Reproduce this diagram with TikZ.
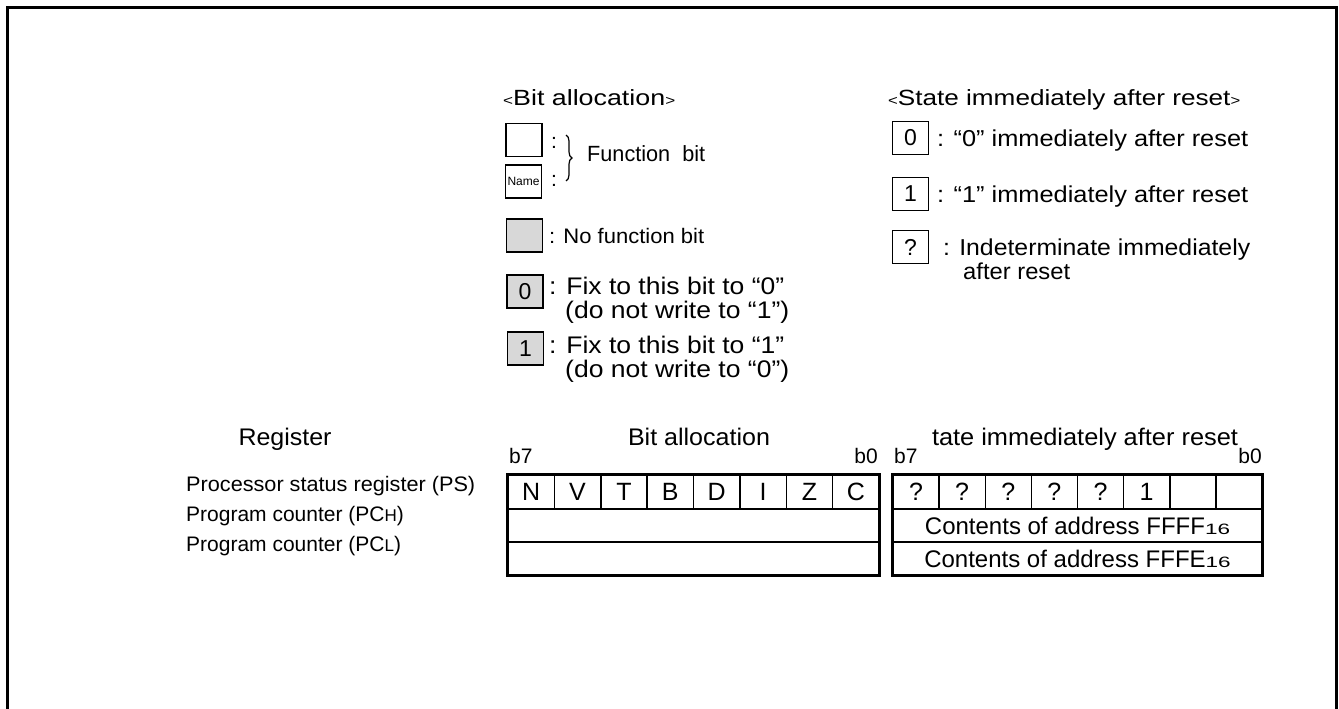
\documentclass[tikz,border=0pt]{standalone}
\usepackage{fontspec}
\setmainfont{Liberation Sans}
\usepackage{graphicx}
\usetikzlibrary{decorations.pathreplacing}
\newcommand\tw[2]{\resizebox{#1pt}{\height}{#2}}
\newcommand\sm[1]{{\fontsize{14}{14}\selectfont #1}}
\newcommand\subsx[1]{\resizebox{25pt}{\height}{\fontsize{15}{15}\selectfont #1}}
\definecolor{boxgray}{RGB}{216,216,216}
\begin{document}
\begin{tikzpicture}[x=1pt,y=-1pt,
  txt/.style={anchor=base west, inner sep=0pt, font=\fontsize{21}{21}\selectfont},
  txtb/.style={anchor=base west, inner sep=0pt, font=\fontsize{24}{24}\selectfont},
  txtr/.style={anchor=base west, inner sep=0pt, font=\fontsize{23}{23}\selectfont},
  head/.style={anchor=base, inner sep=0pt, font=\fontsize{24}{24}\selectfont},
  lbox/.style={draw, line width=1.3pt, minimum width=36pt, minimum height=33pt, inner sep=0pt, font=\fontsize{23}{23}\selectfont},
  gbox/.style={lbox, fill=boxgray},
  cell/.style={draw, line width=1.5pt, minimum height=33pt, inner sep=0pt, font=\fontsize{25}{25}\selectfont},
]
\useasboundingbox (0,0) rectangle (1339,709);
\draw[line width=3pt] (7.5,709) -- (7.5,7.5) -- (1336,7.5) -- (1336,709);

% left legend
\node[txt, font=\fontsize{22}{22}\selectfont] (bah) at (503,105) {\tw{172}{\sm{<}Bit allocation\sm{>}}};
\node[lbox] (fb1) at (524,140) {};
\node[lbox, font=\fontsize{12}{12}\selectfont] (fb2) at (523.5,181.5) {\tw{32}{Name}};
\node[txt] (c1) at (551,148) {:};
\node[txt] (c2) at (551,186) {:};
\draw[line width=1.2pt, decorate, decoration={brace, amplitude=6pt}] (566,135) -- (566,181);
\node[txt, font=\fontsize{22}{22}\selectfont] (fbt) at (587,161) {\tw{118}{Function\ \ bit}};
\node[gbox] (nf) at (524.5,235.5) {};
\node[txt] (nft) at (549,243) {\tw{155}{: No function bit}};
\node[gbox] (f0) at (525,291.5) {0};
\node[txtb] (f0a) at (549,294) {\tw{235}{: Fix to this bit to “0”}};
\node[txtb] (f0b) at (565,318) {\tw{224}{(do not write to “1”)}};
\node[gbox] (f1) at (525.5,348.5) {1};
\node[txtb] (f1a) at (549,353) {\tw{235}{: Fix to this bit to “1”}};
\node[txtb] (f1b) at (565,377) {\tw{224}{(do not write to “0”)}};

% right legend
\node[txt, font=\fontsize{22}{22}\selectfont] (sah) at (888,105) {\tw{352}{\sm{<}State immediately after reset\sm{>}}};
\node[lbox] (s0) at (910.5,138) {0};
\node[txtr] (s0t) at (937,146) {\tw{311}{: “0” immediately after reset}};
\node[lbox] (s1) at (910.5,194) {1};
\node[txtr] (s1t) at (937,202) {\tw{311}{: “1” immediately after reset}};
\node[lbox] (sq) at (910.5,247) {?};
\node[txtr] (sqt) at (943,255) {\tw{307}{: Indeterminate immediately}};
\node[txtr] (sqt2) at (963,279) {\tw{107}{after reset}};

% headers
\node[head] (hreg) at (285,445) {\tw{93}{Register}};
\node[head] (hbit) at (699,445) {\tw{142}{Bit allocation}};
\node[head] (hst) at (1085,445) {\tw{306}{tate immediately after reset}};
\node[txt] (lb7) at (509,463) {b7};
\node[txt, anchor=base east] (lb0) at (878,463) {b0};
\node[txt] (rb7) at (894,463) {b7};
\node[txt, anchor=base east] (rb0) at (1262,463) {b0};

% row labels
\node[txt] (r1) at (186,491) {\tw{289}{Processor status register (PS)}};
\node[txt] (r2) at (186,521) {Program counter (PC{\fontsize{17}{17}\selectfont H})};
\node[txt] (r3) at (186,551) {Program counter (PC{\fontsize{17}{17}\selectfont L})};

% left table
\foreach \t [count=\i from 0] in {N,V,T,B,D,I,Z,C}
  \node[cell, minimum width=46.375pt, minimum height=34pt] (L\i) at ({508+46.375*(\i+0.5)},492) {\t};
\node[cell, minimum width=371pt] (L8) at (693.5,525.5) {};
\node[cell, minimum width=371pt] (L9) at (693.5,558.5) {};
\draw[line width=2.2pt] (L0.north west) rectangle (L9.south east);

% right table
\foreach \t [count=\i from 0] in {?,?,?,?,?,1,{},{}}
  \node[cell, minimum width=46.125pt, minimum height=34pt] (R\i) at ({893+46.125*(\i+0.5)},492) {\t};
\node[cell, minimum width=369pt, font=\fontsize{24}{24}\selectfont] (R8) at (1077.5,525.5) {Contents of address FFFF\subsx{16}};
\node[cell, minimum width=369pt, font=\fontsize{24}{24}\selectfont] (R9) at (1077.5,558.5) {Contents of address FFFE\subsx{16}};
\draw[line width=2.2pt] (R0.north west) rectangle (R9.south east);
\end{tikzpicture}
\end{document}
